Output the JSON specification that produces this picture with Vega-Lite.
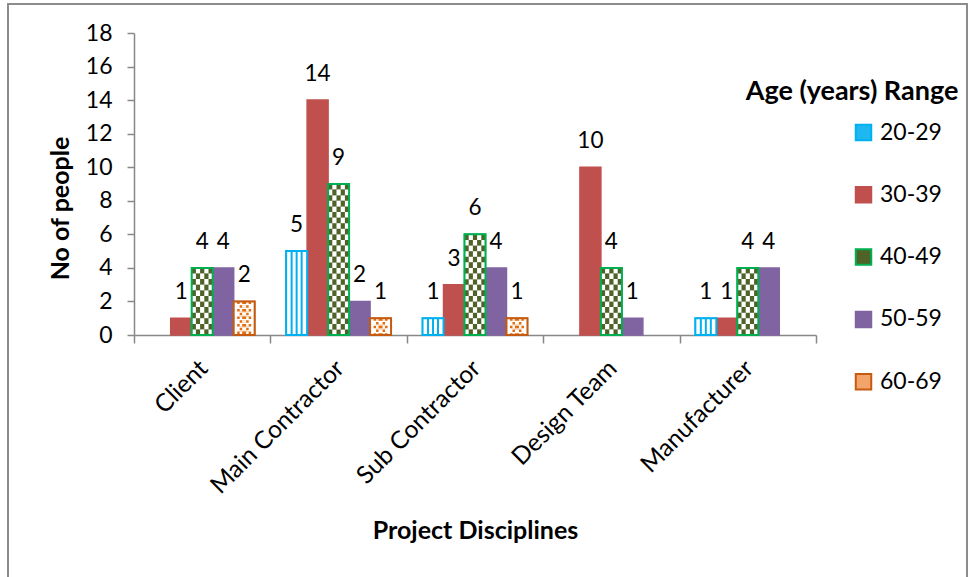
{
  "$schema": "https://vega.github.io/schema/vega-lite/v6.json",
  "autosize": {"type": "none"},
  "width": 959,
  "height": 575,
  "padding": {"left": 8, "top": 4, "right": 2, "bottom": 0},
  "background": "white",
  "config": {
    "font": "Lato",
    "view": {"stroke": "#8C8C8C", "strokeWidth": 2},
    "axis": {"labelFont": "Lato", "titleFont": "Lato", "labelColor": "black", "titleColor": "black", "domainColor": "#888888", "tickColor": "#888888", "domainWidth": 1.5, "tickWidth": 1.5, "grid": false}
  },
  "data": {
    "values": [
      {"cat": "Client", "age": "30-39", "n": 1},
      {"cat": "Client", "age": "40-49", "n": 4},
      {"cat": "Client", "age": "50-59", "n": 4},
      {"cat": "Client", "age": "60-69", "n": 2},
      {"cat": "Main Contractor", "age": "20-29", "n": 5},
      {"cat": "Main Contractor", "age": "30-39", "n": 14},
      {"cat": "Main Contractor", "age": "40-49", "n": 9},
      {"cat": "Main Contractor", "age": "50-59", "n": 2},
      {"cat": "Main Contractor", "age": "60-69", "n": 1},
      {"cat": "Sub Contractor", "age": "20-29", "n": 1},
      {"cat": "Sub Contractor", "age": "30-39", "n": 3},
      {"cat": "Sub Contractor", "age": "40-49", "n": 6},
      {"cat": "Sub Contractor", "age": "50-59", "n": 4},
      {"cat": "Sub Contractor", "age": "60-69", "n": 1},
      {"cat": "Design Team", "age": "30-39", "n": 10},
      {"cat": "Design Team", "age": "40-49", "n": 4},
      {"cat": "Design Team", "age": "50-59", "n": 1},
      {"cat": "Manufacturer", "age": "20-29", "n": 1},
      {"cat": "Manufacturer", "age": "30-39", "n": 1},
      {"cat": "Manufacturer", "age": "40-49", "n": 4},
      {"cat": "Manufacturer", "age": "50-59", "n": 4}
    ]
  },
  "encoding": {
    "x": {
      "field": "cat", "type": "nominal", "sort": null,
      "scale": {"domain": ["Client", "Main Contractor", "Sub Contractor", "Design Team", "Manufacturer"], "range": [126, 808], "paddingInner": 0, "paddingOuter": 0},
      "axis": {"title": "Project Disciplines", "titleFontSize": 25, "titleFontWeight": "bold", "titlePadding": 21, "labelAngle": -45, "labelFontSize": 24.5, "tickBand": "extent", "tickSize": 8, "labelPadding": 13, "labelOffset": -7, "offset": -244}
    },
    "xOffset": {
      "field": "age", "type": "nominal", "sort": null,
      "scale": {"domain": ["20-29", "30-39", "40-49", "50-59", "60-69"], "paddingInner": 0, "paddingOuter": 0.75}
    },
    "y": {
      "field": "n", "type": "quantitative",
      "scale": {"domain": [0, 18], "nice": false, "range": [331, 29]},
      "axis": {"title": "No of people", "titleFontSize": 25, "titleFontWeight": "bold", "values": [0, 2, 4, 6, 8, 10, 12, 14, 16, 18], "labelFontSize": 23, "tickSize": 7, "labelPadding": 15, "titlePadding": 12, "titleY": 204, "offset": -126}
    }
  },
  "layer": [
    {
      "mark": {"type": "bar", "strokeWidth": 1.5},
      "encoding": {
        "fill": {
          "field": "age", "type": "nominal",
          "scale": {"domain": ["20-29", "30-39", "40-49", "50-59", "60-69"], "range": ["#1FB7F0", "#C0504D", "#4F6228", "#8064A2", "#F2A46B"]},
          "legend": {"title": "Age (years) Range", "orient": "none", "legendX": 738, "legendY": 75, "titleFontSize": 27, "titleFontWeight": "bold", "titleColor": "black", "titleAnchor": "start", "titleAlign": "center", "titleLimit": 400, "titlePadding": 15, "labelFontSize": 23, "labelColor": "black", "symbolType": "square", "symbolSize": 240, "symbolStrokeWidth": 2, "rowPadding": 37.3, "labelOffset": 5}
        },
        "stroke": {
          "field": "age", "type": "nominal",
          "scale": {"domain": ["20-29", "30-39", "40-49", "50-59", "60-69"], "range": ["#00B0F0", "#C0504D", "#00B050", "#8064A2", "#C55A11"]},
          "legend": {"title": "Age (years) Range", "orient": "none", "legendX": 738, "legendY": 75, "titleFontSize": 27, "titleFontWeight": "bold", "titleColor": "black", "titleAnchor": "start", "titleAlign": "center", "titleLimit": 400, "titlePadding": 15, "labelFontSize": 23, "labelColor": "black", "symbolType": "square", "symbolSize": 240, "symbolStrokeWidth": 2, "rowPadding": 37.3, "labelOffset": 5}
        }
      }
    },
    {
      "transform": [{"filter": "datum.age === '20-29' || datum.age === '40-49' || datum.age === '60-69'"}],
      "mark": {"type": "bar", "fill": "white"}
    },
    {
      "transform": [{"filter": "datum.age === '20-29'"}],
      "mark": {"type": "rule", "color": "#00B0F0", "strokeWidth": 12},
      "encoding": {"y2": {"datum": 0}}
    },
    {
      "transform": [{"filter": "datum.age === '20-29'"}],
      "mark": {"type": "rule", "color": "white", "strokeWidth": 8},
      "encoding": {"y2": {"datum": 0}}
    },
    {
      "transform": [{"filter": "datum.age === '20-29'"}],
      "mark": {"type": "rule", "color": "#00B0F0", "strokeWidth": 2},
      "encoding": {"y2": {"datum": 0}}
    },
    {
      "transform": [{"filter": "datum.age === '40-49'"}],
      "mark": {"type": "rule", "color": "#4F6228", "strokeWidth": 21, "strokeDash": [5.6, 5.6], "strokeDashOffset": 0},
      "encoding": {"y2": {"datum": 0}}
    },
    {
      "transform": [{"filter": "datum.age === '40-49'"}],
      "mark": {"type": "rule", "color": "white", "strokeWidth": 12.6, "strokeDash": [5.6, 5.6], "strokeDashOffset": 0},
      "encoding": {"y2": {"datum": 0}}
    },
    {
      "transform": [{"filter": "datum.age === '40-49'"}],
      "mark": {"type": "rule", "color": "#4F6228", "strokeWidth": 4.2, "strokeDash": [5.6, 5.6], "strokeDashOffset": 0},
      "encoding": {"y2": {"datum": 0}}
    },
    {
      "transform": [{"filter": "datum.age === '40-49'"}],
      "mark": {"type": "rule", "color": "#4F6228", "strokeWidth": 12.6, "strokeDash": [5.6, 5.6], "strokeDashOffset": 5.6},
      "encoding": {"y2": {"datum": 0}}
    },
    {
      "transform": [{"filter": "datum.age === '40-49'"}],
      "mark": {"type": "rule", "color": "white", "strokeWidth": 4.2, "strokeDash": [5.6, 5.6], "strokeDashOffset": 5.6},
      "encoding": {"y2": {"datum": 0}}
    },
    {
      "transform": [{"filter": "datum.age === '60-69'"}],
      "mark": {"type": "rule", "color": "#E46C0A", "strokeWidth": 14, "strokeDash": [2.5, 5], "strokeDashOffset": 0},
      "encoding": {"y2": {"datum": 0}}
    },
    {
      "transform": [{"filter": "datum.age === '60-69'"}],
      "mark": {"type": "rule", "color": "white", "strokeWidth": 9, "strokeDash": [2.5, 5], "strokeDashOffset": 0},
      "encoding": {"y2": {"datum": 0}}
    },
    {
      "transform": [{"filter": "datum.age === '60-69'"}],
      "mark": {"type": "rule", "color": "#E46C0A", "strokeWidth": 4, "strokeDash": [2.5, 5], "strokeDashOffset": 0},
      "encoding": {"y2": {"datum": 0}}
    },
    {
      "transform": [{"filter": "datum.age === '60-69'"}],
      "mark": {"type": "rule", "color": "#E46C0A", "strokeWidth": 9, "strokeDash": [2.5, 5], "strokeDashOffset": 3.7},
      "encoding": {"y2": {"datum": 0}}
    },
    {
      "transform": [{"filter": "datum.age === '60-69'"}],
      "mark": {"type": "rule", "color": "white", "strokeWidth": 4, "strokeDash": [2.5, 5], "strokeDashOffset": 3.7},
      "encoding": {"y2": {"datum": 0}}
    },
    {
      "transform": [{"filter": "datum.age === '20-29'"}],
      "mark": {"type": "bar", "fillOpacity": 0, "stroke": "#00B0F0", "strokeWidth": 2}
    },
    {
      "transform": [{"filter": "datum.age === '40-49'"}],
      "mark": {"type": "bar", "fillOpacity": 0, "stroke": "#00B050", "strokeWidth": 2}
    },
    {
      "transform": [{"filter": "datum.age === '60-69'"}],
      "mark": {"type": "bar", "fillOpacity": 0, "stroke": "#C55A11", "strokeWidth": 2}
    },
    {
      "mark": {"type": "text", "baseline": "alphabetic", "dy": -19, "fontSize": 22.5, "color": "black", "font": "Lato"},
      "encoding": {"text": {"field": "n", "type": "quantitative"}}
    }
  ]
}
